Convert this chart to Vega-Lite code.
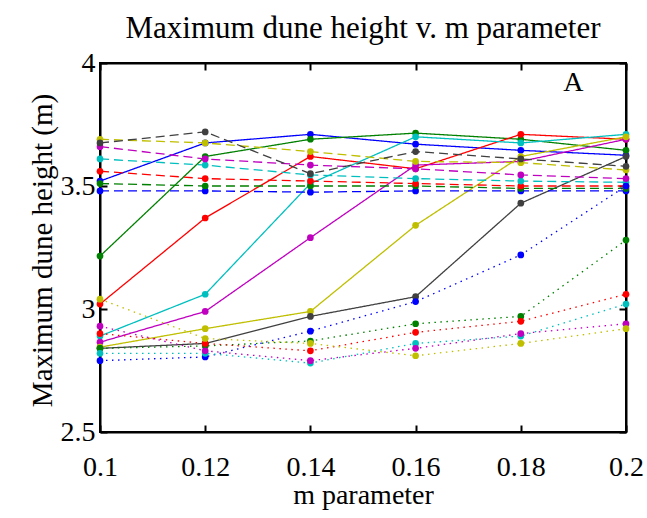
{
  "$schema": "https://vega.github.io/schema/vega-lite/v6.json",
  "width": 526,
  "height": 369,
  "autosize": "none",
  "padding": {"left": 100, "top": 63, "right": 21, "bottom": 86},
  "background": "white",
  "title": {
    "text": "Maximum dune height v. m parameter",
    "font": "Liberation Serif",
    "fontSize": 31,
    "fontWeight": "normal",
    "color": "black",
    "anchor": "middle",
    "frame": "group",
    "baseline": "alphabetic",
    "offset": -20
  },
  "config": {
    "view": {"stroke": "black", "strokeWidth": 2},
    "axis": {
      "grid": false,
      "domainColor": "black",
      "domainWidth": 2,
      "tickColor": "black",
      "tickWidth": 2,
      "tickSize": -7,
      "labelFont": "Liberation Serif",
      "labelFontSize": 28,
      "labelColor": "black",
      "titleFont": "Liberation Serif",
      "titleFontSize": 28,
      "titleFontWeight": "normal",
      "titleColor": "black",
      "labelOverlap": false,
      "labelFlush": false
    }
  },
  "datasets": {
    "runs": [
      {"s": "b1", "c": "b", "st": "solid", "x": 0.1, "y": 3.52},
      {"s": "b1", "c": "b", "st": "solid", "x": 0.12, "y": 3.675},
      {"s": "b1", "c": "b", "st": "solid", "x": 0.14, "y": 3.71},
      {"s": "b1", "c": "b", "st": "solid", "x": 0.16, "y": 3.67},
      {"s": "b1", "c": "b", "st": "solid", "x": 0.18, "y": 3.645},
      {"s": "b1", "c": "b", "st": "solid", "x": 0.2, "y": 3.625},
      {"s": "g1", "c": "g", "st": "solid", "x": 0.1, "y": 3.215},
      {"s": "g1", "c": "g", "st": "solid", "x": 0.12, "y": 3.62},
      {"s": "g1", "c": "g", "st": "solid", "x": 0.14, "y": 3.69},
      {"s": "g1", "c": "g", "st": "solid", "x": 0.16, "y": 3.715},
      {"s": "g1", "c": "g", "st": "solid", "x": 0.18, "y": 3.69},
      {"s": "g1", "c": "g", "st": "solid", "x": 0.2, "y": 3.645},
      {"s": "r1", "c": "r", "st": "solid", "x": 0.1, "y": 3.02},
      {"s": "r1", "c": "r", "st": "solid", "x": 0.12, "y": 3.37},
      {"s": "r1", "c": "r", "st": "solid", "x": 0.14, "y": 3.62},
      {"s": "r1", "c": "r", "st": "solid", "x": 0.16, "y": 3.57},
      {"s": "r1", "c": "r", "st": "solid", "x": 0.18, "y": 3.71},
      {"s": "r1", "c": "r", "st": "solid", "x": 0.2, "y": 3.69},
      {"s": "c1", "c": "c", "st": "solid", "x": 0.1, "y": 2.89},
      {"s": "c1", "c": "c", "st": "solid", "x": 0.12, "y": 3.06},
      {"s": "c1", "c": "c", "st": "solid", "x": 0.14, "y": 3.51},
      {"s": "c1", "c": "c", "st": "solid", "x": 0.16, "y": 3.70},
      {"s": "c1", "c": "c", "st": "solid", "x": 0.18, "y": 3.675},
      {"s": "c1", "c": "c", "st": "solid", "x": 0.2, "y": 3.71},
      {"s": "m1", "c": "m", "st": "solid", "x": 0.1, "y": 2.865},
      {"s": "m1", "c": "m", "st": "solid", "x": 0.12, "y": 2.99},
      {"s": "m1", "c": "m", "st": "solid", "x": 0.14, "y": 3.29},
      {"s": "m1", "c": "m", "st": "solid", "x": 0.16, "y": 3.585},
      {"s": "m1", "c": "m", "st": "solid", "x": 0.18, "y": 3.60},
      {"s": "m1", "c": "m", "st": "solid", "x": 0.2, "y": 3.69},
      {"s": "y1", "c": "y", "st": "solid", "x": 0.1, "y": 2.845},
      {"s": "y1", "c": "y", "st": "solid", "x": 0.12, "y": 2.92},
      {"s": "y1", "c": "y", "st": "solid", "x": 0.14, "y": 2.99},
      {"s": "y1", "c": "y", "st": "solid", "x": 0.16, "y": 3.34},
      {"s": "y1", "c": "y", "st": "solid", "x": 0.18, "y": 3.62},
      {"s": "y1", "c": "y", "st": "solid", "x": 0.2, "y": 3.70},
      {"s": "k1", "c": "k", "st": "solid", "x": 0.1, "y": 2.84},
      {"s": "k1", "c": "k", "st": "solid", "x": 0.12, "y": 2.86},
      {"s": "k1", "c": "k", "st": "solid", "x": 0.14, "y": 2.97},
      {"s": "k1", "c": "k", "st": "solid", "x": 0.16, "y": 3.05},
      {"s": "k1", "c": "k", "st": "solid", "x": 0.18, "y": 3.43},
      {"s": "k1", "c": "k", "st": "solid", "x": 0.2, "y": 3.62},
      {"s": "b2", "c": "b", "st": "dashed", "x": 0.1, "y": 3.48},
      {"s": "b2", "c": "b", "st": "dashed", "x": 0.12, "y": 3.48},
      {"s": "b2", "c": "b", "st": "dashed", "x": 0.14, "y": 3.475},
      {"s": "b2", "c": "b", "st": "dashed", "x": 0.16, "y": 3.48},
      {"s": "b2", "c": "b", "st": "dashed", "x": 0.18, "y": 3.48},
      {"s": "b2", "c": "b", "st": "dashed", "x": 0.2, "y": 3.48},
      {"s": "g2", "c": "g", "st": "dashed", "x": 0.1, "y": 3.51},
      {"s": "g2", "c": "g", "st": "dashed", "x": 0.12, "y": 3.50},
      {"s": "g2", "c": "g", "st": "dashed", "x": 0.14, "y": 3.50},
      {"s": "g2", "c": "g", "st": "dashed", "x": 0.16, "y": 3.50},
      {"s": "g2", "c": "g", "st": "dashed", "x": 0.18, "y": 3.49},
      {"s": "g2", "c": "g", "st": "dashed", "x": 0.2, "y": 3.49},
      {"s": "r2", "c": "r", "st": "dashed", "x": 0.1, "y": 3.56},
      {"s": "r2", "c": "r", "st": "dashed", "x": 0.12, "y": 3.53},
      {"s": "r2", "c": "r", "st": "dashed", "x": 0.14, "y": 3.52},
      {"s": "r2", "c": "r", "st": "dashed", "x": 0.16, "y": 3.51},
      {"s": "r2", "c": "r", "st": "dashed", "x": 0.18, "y": 3.50},
      {"s": "r2", "c": "r", "st": "dashed", "x": 0.2, "y": 3.50},
      {"s": "c2", "c": "c", "st": "dashed", "x": 0.1, "y": 3.61},
      {"s": "c2", "c": "c", "st": "dashed", "x": 0.12, "y": 3.585},
      {"s": "c2", "c": "c", "st": "dashed", "x": 0.14, "y": 3.545},
      {"s": "c2", "c": "c", "st": "dashed", "x": 0.16, "y": 3.53},
      {"s": "c2", "c": "c", "st": "dashed", "x": 0.18, "y": 3.52},
      {"s": "c2", "c": "c", "st": "dashed", "x": 0.2, "y": 3.515},
      {"s": "m2", "c": "m", "st": "dashed", "x": 0.1, "y": 3.66},
      {"s": "m2", "c": "m", "st": "dashed", "x": 0.12, "y": 3.61},
      {"s": "m2", "c": "m", "st": "dashed", "x": 0.14, "y": 3.585},
      {"s": "m2", "c": "m", "st": "dashed", "x": 0.16, "y": 3.57},
      {"s": "m2", "c": "m", "st": "dashed", "x": 0.18, "y": 3.545},
      {"s": "m2", "c": "m", "st": "dashed", "x": 0.2, "y": 3.53},
      {"s": "y2", "c": "y", "st": "dashed", "x": 0.1, "y": 3.69},
      {"s": "y2", "c": "y", "st": "dashed", "x": 0.12, "y": 3.675},
      {"s": "y2", "c": "y", "st": "dashed", "x": 0.14, "y": 3.64},
      {"s": "y2", "c": "y", "st": "dashed", "x": 0.16, "y": 3.60},
      {"s": "y2", "c": "y", "st": "dashed", "x": 0.18, "y": 3.595},
      {"s": "y2", "c": "y", "st": "dashed", "x": 0.2, "y": 3.565},
      {"s": "k2", "c": "k", "st": "dashed", "x": 0.1, "y": 3.675},
      {"s": "k2", "c": "k", "st": "dashed", "x": 0.12, "y": 3.72},
      {"s": "k2", "c": "k", "st": "dashed", "x": 0.14, "y": 3.55},
      {"s": "k2", "c": "k", "st": "dashed", "x": 0.16, "y": 3.64},
      {"s": "k2", "c": "k", "st": "dashed", "x": 0.18, "y": 3.61},
      {"s": "k2", "c": "k", "st": "dashed", "x": 0.2, "y": 3.58},
      {"s": "b3", "c": "b", "st": "dotted", "x": 0.1, "y": 2.79},
      {"s": "b3", "c": "b", "st": "dotted", "x": 0.12, "y": 2.805},
      {"s": "b3", "c": "b", "st": "dotted", "x": 0.14, "y": 2.91},
      {"s": "b3", "c": "b", "st": "dotted", "x": 0.16, "y": 3.03},
      {"s": "b3", "c": "b", "st": "dotted", "x": 0.18, "y": 3.22},
      {"s": "b3", "c": "b", "st": "dotted", "x": 0.2, "y": 3.50},
      {"s": "g3", "c": "g", "st": "dotted", "x": 0.1, "y": 2.84},
      {"s": "g3", "c": "g", "st": "dotted", "x": 0.12, "y": 2.85},
      {"s": "g3", "c": "g", "st": "dotted", "x": 0.14, "y": 2.87},
      {"s": "g3", "c": "g", "st": "dotted", "x": 0.16, "y": 2.94},
      {"s": "g3", "c": "g", "st": "dotted", "x": 0.18, "y": 2.97},
      {"s": "g3", "c": "g", "st": "dotted", "x": 0.2, "y": 3.28},
      {"s": "r3", "c": "r", "st": "dotted", "x": 0.1, "y": 2.90},
      {"s": "r3", "c": "r", "st": "dotted", "x": 0.12, "y": 2.86},
      {"s": "r3", "c": "r", "st": "dotted", "x": 0.14, "y": 2.83},
      {"s": "r3", "c": "r", "st": "dotted", "x": 0.16, "y": 2.905},
      {"s": "r3", "c": "r", "st": "dotted", "x": 0.18, "y": 2.95},
      {"s": "r3", "c": "r", "st": "dotted", "x": 0.2, "y": 3.06},
      {"s": "c3", "c": "c", "st": "dotted", "x": 0.1, "y": 2.82},
      {"s": "c3", "c": "c", "st": "dotted", "x": 0.12, "y": 2.82},
      {"s": "c3", "c": "c", "st": "dotted", "x": 0.14, "y": 2.78},
      {"s": "c3", "c": "c", "st": "dotted", "x": 0.16, "y": 2.86},
      {"s": "c3", "c": "c", "st": "dotted", "x": 0.18, "y": 2.89},
      {"s": "c3", "c": "c", "st": "dotted", "x": 0.2, "y": 3.02},
      {"s": "m3", "c": "m", "st": "dotted", "x": 0.1, "y": 2.93},
      {"s": "m3", "c": "m", "st": "dotted", "x": 0.12, "y": 2.83},
      {"s": "m3", "c": "m", "st": "dotted", "x": 0.14, "y": 2.79},
      {"s": "m3", "c": "m", "st": "dotted", "x": 0.16, "y": 2.84},
      {"s": "m3", "c": "m", "st": "dotted", "x": 0.18, "y": 2.90},
      {"s": "m3", "c": "m", "st": "dotted", "x": 0.2, "y": 2.94},
      {"s": "y3", "c": "y", "st": "dotted", "x": 0.1, "y": 3.04},
      {"s": "y3", "c": "y", "st": "dotted", "x": 0.12, "y": 2.88},
      {"s": "y3", "c": "y", "st": "dotted", "x": 0.14, "y": 2.86},
      {"s": "y3", "c": "y", "st": "dotted", "x": 0.16, "y": 2.81},
      {"s": "y3", "c": "y", "st": "dotted", "x": 0.18, "y": 2.86},
      {"s": "y3", "c": "y", "st": "dotted", "x": 0.2, "y": 2.92}
    ],
    "labels": [
      {"x": 0.19, "y": 3.92, "t": "A"}
    ]
  },
  "layer": [
    {
      "data": {"name": "runs"},
      "mark": {"type": "line", "strokeWidth": 1.3, "clip": false},
      "encoding": {
        "x": {
          "field": "x", "type": "quantitative",
          "scale": {"domain": [0.1, 0.2], "nice": false, "zero": false},
          "axis": {"values": [0.1, 0.12, 0.14, 0.16, 0.18, 0.2], "format": "~g", "labelPadding": 50, "labelBaseline": "alphabetic", "title": "m parameter", "titleY": 71, "titleBaseline": "alphabetic"}
        },
        "y": {
          "field": "y", "type": "quantitative",
          "scale": {"domain": [2.5, 4], "nice": false, "zero": false},
          "axis": {"values": [2.5, 3, 3.5, 4], "format": "~g", "labelPadding": 12, "labelBaseline": "middle", "title": "Maximum dune height (m)", "titleFontSize": 29, "titleX": -58, "titleY": 187, "titleAngle": -90, "titleBaseline": "middle", "titleAlign": "center"}
        },
        "color": {
          "field": "c", "type": "nominal", "legend": null,
          "scale": {"domain": ["b", "g", "r", "c", "m", "y", "k"], "range": ["#0000FF", "#008000", "#FF0000", "#00BFBF", "#BF00BF", "#BFBF00", "#404040"]}
        },
        "strokeDash": {
          "field": "st", "type": "nominal", "legend": null,
          "scale": {"domain": ["solid", "dashed", "dotted"], "range": [[1, 0], [9, 5], [1.5, 4.5]]}
        },
        "detail": {"field": "s"}
      }
    },
    {
      "data": {"name": "runs"},
      "mark": {"type": "point", "filled": true, "opacity": 1, "size": 45, "clip": false},
      "encoding": {
        "x": {"field": "x", "type": "quantitative", "axis": null},
        "y": {"field": "y", "type": "quantitative", "axis": null},
        "color": {"field": "c", "type": "nominal", "legend": null}
      }
    },
    {
      "data": {"name": "labels"},
      "mark": {"type": "text", "font": "Liberation Serif", "fontSize": 28, "color": "black", "baseline": "middle", "align": "center"},
      "encoding": {
        "x": {"field": "x", "type": "quantitative", "axis": null},
        "y": {"field": "y", "type": "quantitative", "axis": null},
        "text": {"field": "t"}
      }
    },
    {
      "data": {"name": "runs"},
      "mark": {"type": "point", "opacity": 0},
      "encoding": {
        "x": {"field": "x", "type": "quantitative", "axis": {"orient": "top", "values": [0.1, 0.12, 0.14, 0.16, 0.18, 0.2], "labels": false, "title": null}},
        "y": {"field": "y", "type": "quantitative", "axis": {"orient": "right", "values": [2.5, 3, 3.5, 4], "labels": false, "title": null}}
      }
    }
  ],
  "resolve": {"axis": {"x": "independent", "y": "independent"}}
}
